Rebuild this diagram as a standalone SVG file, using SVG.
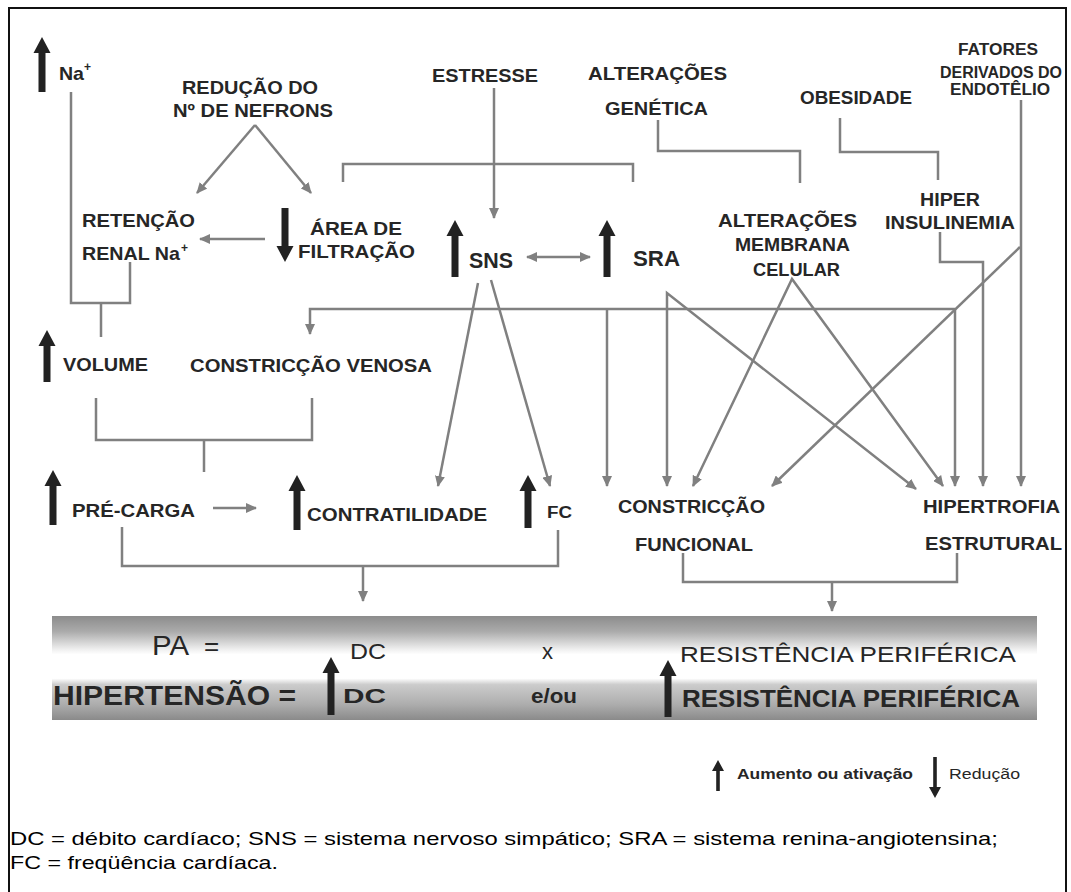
<svg xmlns="http://www.w3.org/2000/svg" width="1071" height="892" viewBox="0 0 1071 892">
<style>
text{font-family:"Liberation Sans",Arial,sans-serif;fill:#262626}
.b{font-weight:bold;font-size:19px}
.s{font-weight:bold;font-size:16px}
.big{font-weight:bold;font-size:22px}
.r{font-size:22px}
.ln{fill:none;stroke:#808080;stroke-width:2.5}
.ar{marker-end:url(#ah)}
.th{fill:#222}
</style>
<defs>
<marker id="ah" markerUnits="userSpaceOnUse" markerWidth="12" markerHeight="10" refX="10" refY="5" orient="auto-start-reverse">
<path d="M0,0 L11,5 L0,10 z" fill="#808080"/>
</marker>
<linearGradient id="band" x1="0" y1="0" x2="0" y2="1">
<stop offset="0" stop-color="#8c8c8c"/>
<stop offset="0.15" stop-color="#ababab"/>
<stop offset="0.32" stop-color="#efefef"/>
<stop offset="0.37" stop-color="#ffffff"/>
<stop offset="0.60" stop-color="#ffffff"/>
<stop offset="0.66" stop-color="#cccccc"/>
<stop offset="0.85" stop-color="#adadad"/>
<stop offset="1" stop-color="#8a8a8a"/>
</linearGradient>
</defs>
<rect x="0" y="0" width="1071" height="892" fill="#ffffff"/>
<rect x="9" y="8" width="1057" height="900" fill="none" stroke="#111" stroke-width="2"/>

<g id="connectors">
<path class="ln" d="M71,92 V303 H130 V262 M101,303 V337"/>
<path class="ln ar" d="M255,125 L197,193"/>
<path class="ln ar" d="M255,125 L311,193"/>
<path class="ln ar" d="M265,239 L200,239"/>
<path class="ln" d="M343,182 V164 H633 V182"/>
<path class="ln ar" d="M494,88 V218"/>
<path class="ln ar" d="M527,257 L590,257" marker-start="url(#ah)"/>
<path class="ln" d="M658,120 V151 H800 V183"/>
<path class="ln" d="M840,118 V152 H938 V180"/>
<path class="ln ar" d="M940,232 V262 H983 V486"/>
<path class="ln ar" d="M1021,100 V486"/>
<path class="ln ar" d="M1020,247 L772,486"/>
<path class="ln ar" d="M955,309 H310 V334"/>
<path class="ln ar" d="M955,309 V486"/>
<path class="ln ar" d="M607,309 V486"/>
<path class="ln ar" d="M667,486 V293 L916,489" marker-start="url(#ah)"/>
<path class="ln ar" d="M693,486 L792,279 L943,486" marker-start="url(#ah)"/>
<path class="ln ar" d="M478,283 L438,486"/>
<path class="ln ar" d="M491,280 L550,486"/>
<path class="ln" d="M96,398 V440 H312 V398 M204,440 V472"/>
<path class="ln ar" d="M213,508 L256,508"/>
<path class="ln" d="M122,527 V566 H558 V530"/>
<path class="ln ar" d="M363,566 V601"/>
<path class="ln" d="M683,553 V582 H957 V553"/>
<path class="ln ar" d="M832,582 V611"/>
</g>

<g id="na">
<polygon class="th" points="42,37 50.5,53 45.5,53 45.5,92 38.5,92 38.5,53 33.5,53"/>
<text x="59" y="80" style="font-size:19px;font-weight:bold" textLength="25" lengthAdjust="spacingAndGlyphs">Na</text>
<text x="84" y="71" style="font-size:12px;font-weight:bold">+</text>
</g>
<g id="reducao">
<text class="b" x="182" y="94" textLength="136" lengthAdjust="spacingAndGlyphs">REDUÇÃO DO</text>
<text class="b" x="173" y="117" textLength="160" lengthAdjust="spacingAndGlyphs">Nº DE NEFRONS</text>
</g>
<g id="retencao">
<text class="b" x="82" y="227" textLength="113" lengthAdjust="spacingAndGlyphs">RETENÇÃO</text>
<text class="b" x="82" y="260" textLength="98" lengthAdjust="spacingAndGlyphs">RENAL Na</text>
<text class="b" x="181" y="252" style="font-size:12px">+</text>
</g>
<g id="area">
<polygon class="th" points="285,262 293.5,246 288.5,246 288.5,208 281.5,208 281.5,246 276.5,246"/>
<text class="b" x="310" y="235" textLength="92" lengthAdjust="spacingAndGlyphs">ÁREA DE</text>
<text class="b" x="298" y="258" textLength="117" lengthAdjust="spacingAndGlyphs">FILTRAÇÃO</text>
</g>
<g id="estresse">
<text class="b" x="432" y="82" textLength="106" lengthAdjust="spacingAndGlyphs">ESTRESSE</text>
</g>
<g id="genetica">
<text class="b" x="588" y="80" textLength="139" lengthAdjust="spacingAndGlyphs">ALTERAÇÕES</text>
<text class="b" x="605" y="115" textLength="103" lengthAdjust="spacingAndGlyphs">GENÉTICA</text>
</g>
<g id="obesidade">
<text class="b" x="800" y="104" textLength="112" lengthAdjust="spacingAndGlyphs">OBESIDADE</text>
</g>
<g id="fatores">
<text class="s" x="958" y="55" textLength="80" lengthAdjust="spacingAndGlyphs">FATORES</text>
<text class="s" x="940" y="78" textLength="122" lengthAdjust="spacingAndGlyphs">DERIVADOS DO</text>
<text class="s" x="950" y="95" textLength="100" lengthAdjust="spacingAndGlyphs">ENDOTÊLIO</text>
</g>
<g id="hiperinsulinemia">
<text class="b" x="920" y="206" textLength="60" lengthAdjust="spacingAndGlyphs">HIPER</text>
<text class="b" x="885" y="229" textLength="130" lengthAdjust="spacingAndGlyphs">INSULINEMIA</text>
</g>
<g id="membrana">
<text class="b" x="718" y="227" textLength="139" lengthAdjust="spacingAndGlyphs">ALTERAÇÕES</text>
<text class="b" x="735" y="251" textLength="115" lengthAdjust="spacingAndGlyphs">MEMBRANA</text>
<text class="b" x="753" y="276" textLength="87" lengthAdjust="spacingAndGlyphs">CELULAR</text>
</g>
<g id="sns">
<polygon class="th" points="455,220 463.5,236 458.5,236 458.5,277 451.5,277 451.5,236 446.5,236"/>
<text class="big" x="469" y="268" textLength="44" lengthAdjust="spacingAndGlyphs">SNS</text>
</g>
<g id="sra">
<polygon class="th" points="607,220 615.5,236 610.5,236 610.5,277 603.5,277 603.5,236 598.5,236"/>
<text class="big" x="633" y="266" textLength="47" lengthAdjust="spacingAndGlyphs">SRA</text>
</g>
<g id="volume">
<polygon class="th" points="47,330 55.5,346 50.5,346 50.5,382 43.5,382 43.5,346 38.5,346"/>
<text class="b" x="63" y="371" textLength="85" lengthAdjust="spacingAndGlyphs">VOLUME</text>
</g>
<g id="venosa">
<text class="b" x="190" y="372" textLength="242" lengthAdjust="spacingAndGlyphs">CONSTRICÇÃO VENOSA</text>
</g>
<g id="precarga">
<polygon class="th" points="53,470 61.5,486 56.5,486 56.5,525 49.5,525 49.5,486 44.5,486"/>
<text class="b" x="72" y="517" textLength="123" lengthAdjust="spacingAndGlyphs">PRÉ-CARGA</text>
</g>
<g id="contratilidade">
<polygon class="th" points="297,475 305.5,491 300.5,491 300.5,530 293.5,530 293.5,491 288.5,491"/>
<text class="b" x="307" y="521" textLength="180" lengthAdjust="spacingAndGlyphs">CONTRATILIDADE</text>
</g>
<g id="fc">
<polygon class="th" points="528,475 536.5,491 531.5,491 531.5,528 524.5,528 524.5,491 519.5,491"/>
<text class="s" x="547" y="518" textLength="25" lengthAdjust="spacingAndGlyphs">FC</text>
</g>
<g id="funcional">
<text class="b" x="618" y="513" textLength="147" lengthAdjust="spacingAndGlyphs">CONSTRICÇÃO</text>
<text class="b" x="635" y="551" textLength="118" lengthAdjust="spacingAndGlyphs">FUNCIONAL</text>
</g>
<g id="estrutural">
<text class="b" x="923" y="513" textLength="137" lengthAdjust="spacingAndGlyphs">HIPERTROFIA</text>
<text class="b" x="925" y="550" textLength="137" lengthAdjust="spacingAndGlyphs">ESTRUTURAL</text>
</g>

<g id="equation">
<rect x="52" y="616" width="985" height="104" fill="url(#band)"/>
<text class="r" x="152" y="655" style="font-size:27px" textLength="37" lengthAdjust="spacingAndGlyphs">PA</text>
<text class="r" x="204" y="655" style="font-size:26px">=</text>
<text class="r" x="350" y="659" textLength="36" lengthAdjust="spacingAndGlyphs">DC</text>
<text class="r" x="542" y="659">x</text>
<text class="r" x="680" y="662" textLength="336" lengthAdjust="spacingAndGlyphs">RESISTÊNCIA PERIFÉRICA</text>
<text x="53" y="705" style="font-weight:bold;font-size:27px" textLength="243" lengthAdjust="spacingAndGlyphs">HIPERTENSÃO =</text>
<polygon class="th" points="331,657 339.5,673 334.5,673 334.5,715 327.5,715 327.5,673 322.5,673"/>
<text x="343" y="703" style="font-weight:bold;font-size:21px" textLength="43" lengthAdjust="spacingAndGlyphs">DC</text>
<text x="531" y="703" style="font-weight:bold;font-size:21px" textLength="46" lengthAdjust="spacingAndGlyphs">e/ou</text>
<polygon class="th" points="668,660 676.5,676 671.5,676 671.5,717 664.5,717 664.5,676 659.5,676"/>
<text x="682" y="707" style="font-weight:bold;font-size:23px" textLength="338" lengthAdjust="spacingAndGlyphs">RESISTÊNCIA PERIFÉRICA</text>
</g>

<g id="legend">
<polygon class="th" points="718,760 724,771 719.8,771 719.8,791 716.2,791 716.2,771 712,771"/>
<text x="737" y="779" style="font-weight:bold;font-size:14px" textLength="176" lengthAdjust="spacingAndGlyphs">Aumento ou ativação</text>
<polygon class="th" points="935,798 941,787 936.8,787 936.8,757 933.2,757 933.2,787 929,787"/>
<text x="949" y="779" style="font-size:14px" textLength="71" lengthAdjust="spacingAndGlyphs">Redução</text>
</g>

<g id="footnote">
<text x="10" y="845" style="font-size:19px;fill:#000" textLength="988" lengthAdjust="spacingAndGlyphs">DC = débito cardíaco; SNS = sistema nervoso simpático; SRA = sistema renina-angiotensina;</text>
<text x="10" y="869" style="font-size:19px;fill:#000" textLength="268" lengthAdjust="spacingAndGlyphs">FC = freqüência cardíaca.</text>
</g>
</svg>
